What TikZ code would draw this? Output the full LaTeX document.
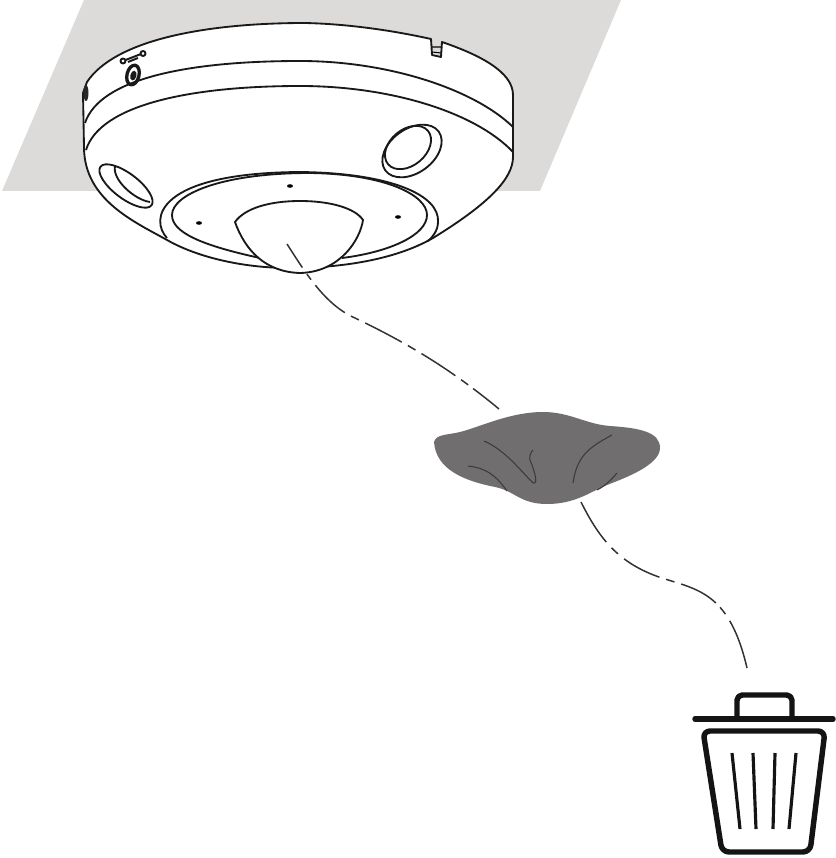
\documentclass[tikz,border=0pt]{standalone}

\definecolor{ceiling}{HTML}{DCDBDA}
\definecolor{cloth}{HTML}{706E6F}
\definecolor{clothfold}{HTML}{3C3B3C}

\begin{document}
\begin{tikzpicture}[x=0.02cm, y=-0.02cm, line join=round,
    camline/.style={line width=1.05pt, black!90},
    pathline/.style={line width=0.85pt, black!80},
    binline/.style={line width=3.1pt, black!92},
    binbar/.style={line width=1.8pt, black!92},
    foldline/.style={line width=0.6pt, clothfold}]
    \useasboundingbox (0,0) rectangle (835,858);

    % 天花板
    \fill[ceiling] (84,0) -- (621,0) -- (540,191) -- (2,191) -- cycle;

    % 机身外轮廓
    \filldraw[camline, fill=white]
        (87,82) .. controls (115,40) and (205,23) .. (305,23)
        .. controls (350,24) and (395,31) .. (431,39)
        -- (432,55) -- (441,57) -- (442,42)
        .. controls (480,55) and (513,72) .. (513,95)
        -- (513,157)
        .. controls (513,178) and (490,203) .. (433,238)
        .. controls (395,260) and (340,268) .. (290,268)
        .. controls (240,268) and (195,256) .. (167,240)
        .. controls (135,222) and (84,200) .. (84,147)
        -- (83,93) -- cycle;

    % 卡槽
    \draw[line width=0.6pt] (432,47) -- (441,47) (432,52) -- (441,53);

    % 机身分层线
    \draw[camline] (85,123) .. controls (100,78) and (190,61) .. (300,61)
        .. controls (390,61) and (475,90) .. (513,127);
    \draw[camline] (86,150) .. controls (100,105) and (190,86) .. (300,86)
        .. controls (390,86) and (475,112) .. (513,152);

    % 侧面接口
    \fill[black!85] (86,93) ellipse [x radius=2.5, y radius=8];
    \draw[line width=1.9pt, black!90, rotate around={-14:(133,75)}] (133,75) ellipse [x radius=6, y radius=10];
    \fill[black!90, rotate around={-14:(133,75)}] (133.5,75.5) ellipse [x radius=3, y radius=5];
    \draw[line width=1.1pt, black!90]
        (123,61) circle [radius=2.5] (143,53.5) circle [radius=2.5]
        (125.5,60) -- (141,54) (128,62) -- (138,58);

    % 左侧镜头
    \draw[camline, rotate around={-37:(126,186)}] (126,186) ellipse [x radius=32, y radius=12.5];
    \draw[camline] (115,166) .. controls (112,180) and (135,200) .. (150,202);

    % 右侧镜头
    \draw[camline, rotate around={36:(412,151)}] (412,151) ellipse [x radius=33, y radius=22];
    \draw[camline, rotate around={40:(408,147.5)}] (408,147.5) ellipse [x radius=26, y radius=18];

    % 底部圆环
    \draw[camline] (167,238) .. controls (150,220) and (155,173) .. (300,172)
        .. controls (390,173) and (440,195) .. (438,222)
        .. controls (438,230) and (433,237) .. (428,241);
    \draw[camline] (260,258) .. controls (200,245) and (172,232) .. (172,215)
        .. controls (172,195) and (220,173) .. (310,173)
        .. controls (385,174) and (427,195) .. (427,215)
        .. controls (427,235) and (390,252) .. (342,258);

    % 圆环上的小孔
    \fill[black] (290,186) ellipse [x radius=3, y radius=1.8];
    \fill[black] (199,223) ellipse [x radius=3, y radius=1.8];
    \fill[black] (398,217) ellipse [x radius=3, y radius=1.8];

    % 球罩
    \filldraw[camline, fill=white] (235,222) .. controls (245,208) and (270,201) .. (300,201)
        .. controls (330,201) and (355,208) .. (363,220)
        .. controls (360,240) and (340,272) .. (300,273)
        .. controls (265,272) and (245,250) .. (235,222) -- cycle;

    % 虚线路径
    \draw[pathline, dash pattern=on 16pt off 4.5pt on 4pt off 4pt on 23pt off 4pt on 5pt off 4pt on 23.5pt off 4pt on 5pt off 4pt on 23pt off 4pt on 5pt off 3.5pt on 20pt off 10pt]
        (287,244) .. controls (305,272) and (325,305) .. (355,318)
        .. controls (390,335) and (440,360) .. (499,409);
    \draw[pathline, dash pattern=on 27pt off 4.5pt on 5pt off 4.5pt on 22.7pt off 4pt on 5pt off 4pt on 22.7pt off 3.4pt on 5pt off 4.5pt on 32pt off 10pt]
        (581,502) .. controls (600,540) and (620,565) .. (665,579)
        .. controls (700,590) and (730,595) .. (747,668);

    % 擦拭布
    \fill[cloth] (434,442) .. controls (436,434) and (448,435) .. (460,432)
        .. controls (480,427) and (510,412) .. (543,412)
        .. controls (570,412) and (585,424) .. (610,426)
        .. controls (640,428) and (660,432) .. (660,448)
        .. controls (660,465) and (625,478) .. (607,485)
        .. controls (590,492) and (575,504) .. (547,504)
        .. controls (520,504) and (515,491) .. (495,487)
        .. controls (465,481) and (436,470) .. (434,442) -- cycle;
    \draw[foldline] (484,441) .. controls (505,450) and (520,470) .. (533,483)
        .. controls (540,485) and (532,465) .. (530,460) .. controls (529,456) and (531,452) .. (533,450);
    \draw[foldline] (468,466) .. controls (485,468) and (495,474) .. (507,491);
    \draw[foldline] (612,435) .. controls (590,447) and (577,455) .. (573,483);
    \draw[foldline] (617,473) .. controls (610,481) and (605,486) .. (597,490);

    % 垃圾桶
    \draw[binline, line cap=round] (695,719) -- (833,719);
    \draw[binline, rounded corners=3pt] (737,717) -- (737,695) -- (792,695) -- (792,717);
    \draw[binline, rounded corners=4pt] (703,731) -- (825,731) -- (810,852) -- (722,852) -- cycle;
    \draw[binbar] (732,753) -- (740,829);
    \draw[binbar] (753,753) -- (756,829);
    \draw[binbar] (775,753) -- (773,829);
    \draw[binbar] (796,753) -- (789,829);
\end{tikzpicture}
\end{document}
